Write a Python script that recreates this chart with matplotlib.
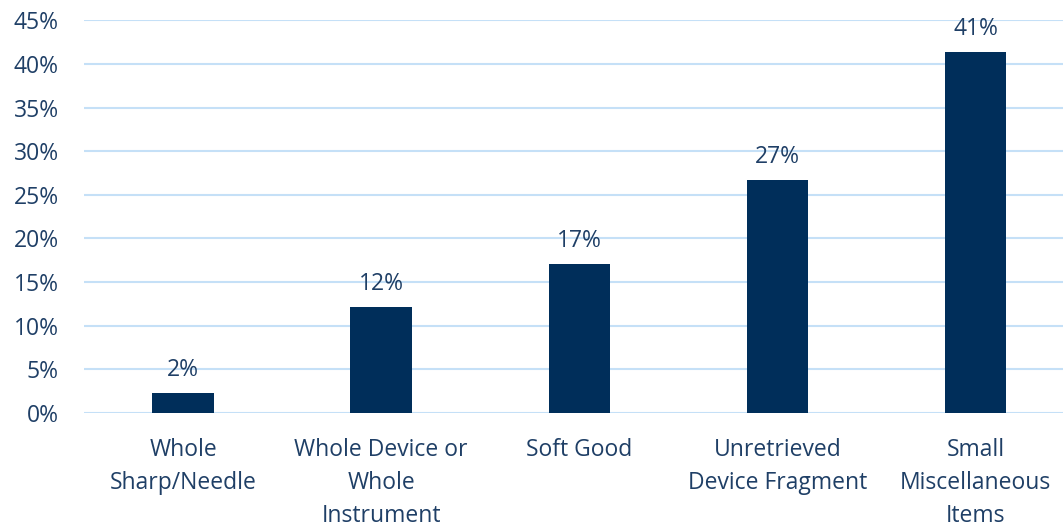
import matplotlib
matplotlib.use('Agg')
import matplotlib.pyplot as plt
from matplotlib.ticker import FuncFormatter

# categories and shares (percent)
categories = ['Whole\nSharp/Needle', 'Whole Device or\nWhole\nInstrument', 'Soft Good',
              'Unretrieved\nDevice Fragment', 'Small\nMiscellaneous\nItems']
shares = [2.3, 12.1, 17.0, 26.7, 41.4]
yticks = [0, 5, 10, 15, 20, 25, 30, 35, 40, 45]

bar_color = '#002e5a'
text_color = '#1f3f66'
grid_color = '#c5e0f7'

plt.rcParams['font.family'] = ['Open Sans', 'DejaVu Sans']
fs = 16.5

fig = plt.figure(figsize=(10.63, 5.29), dpi=100)
ax = fig.add_axes([0.079, 0.2198, 0.932, 0.7418])

x = range(len(categories))
ax.bar(x, shares, width=0.31, color=bar_color, zorder=3)

for xi, v in zip(x, shares):
    ax.annotate('%d%%' % round(v), (xi, v), xytext=(0, 8), textcoords='offset points',
                ha='center', va='bottom', fontsize=fs, color=text_color)

ax.set_xlim(-0.5, len(categories) - 0.5)
ax.set_ylim(0, 45)
ax.set_yticks(yticks)
ax.yaxis.set_major_formatter(FuncFormatter(lambda v, p: '%d%%' % v))
ax.set_xticks(list(x))
ax.set_xticklabels(categories, linespacing=1.5)

ax.grid(axis='y', color=grid_color, linewidth=1.5, zorder=0)
ax.tick_params(axis='both', length=0, labelsize=fs, labelcolor=text_color)
ax.tick_params(axis='x', pad=18)
ax.tick_params(axis='y', pad=18)
for s in ax.spines.values():
    s.set_visible(False)

plt.savefig('out.png', dpi=100)
